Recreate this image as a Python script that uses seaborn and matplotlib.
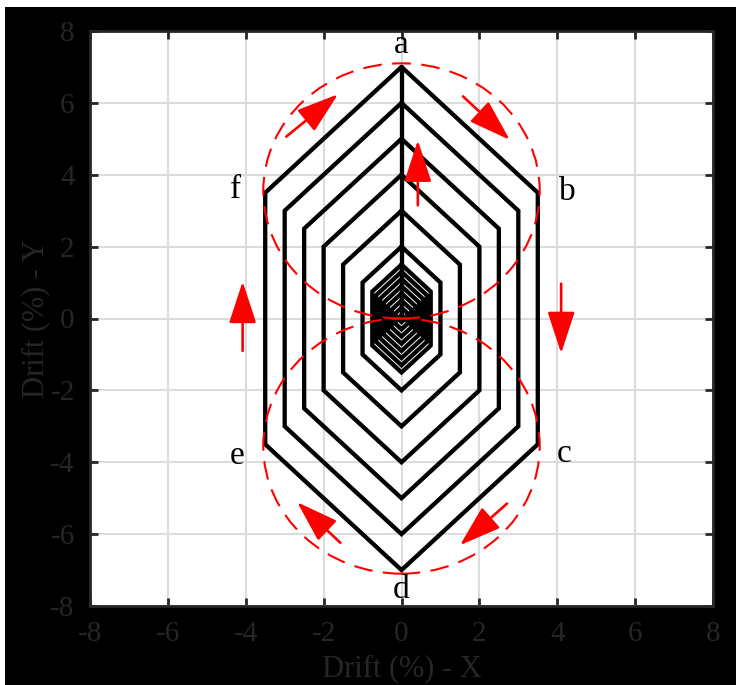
import numpy as np
import pandas as pd
import matplotlib
matplotlib.use("Agg")
import matplotlib.pyplot as plt
import seaborn as sns
from matplotlib.patches import Ellipse, Rectangle

# amplitudes de los ciclos (drift %)
amplitudes = [7, 6, 5, 4, 3, 2, 1.5, 1.3, 1.1, 0.9, 0.7, 0.5, 0.3, 0.1]
# recorrido a-b-c-d-e-f-a en fraccion de la amplitud
path_x = [0, 0.5, 0.5, 0, -0.5, -0.5, 0]
path_y = [1, 0.5, -0.5, -1, -0.5, 0.5, 1]
# tramo vertical de subida entre ciclos
rise_x = [0, 0]
rise_y = [0, 7]

# orbitas de referencia (rojo discontinuo)
orbit_cy = [3.55, -3.55]
orbit_w = 7.1
orbit_h = 7.1

# etiquetas de los puntos
point_labels = ["a", "b", "c", "d", "e", "f"]
label_x = [0, 4.27, 4.17, 0, -4.23, -4.26]
label_y = [7.63, 3.54, -3.76, -7.55, -3.82, 3.57]

# flechas: cola (x0, y0) -> punta (x1, y1)
arrow_x0 = [0.42, -4.08, 4.10, -2.96, 1.58, 2.71, -1.57]
arrow_y0 = [3.15, -0.90, 0.97, 5.06, 6.18, -5.15, -6.24]
arrow_x1 = [0.42, -4.08, 4.10, -1.63, 2.78, 1.50, -2.68]
arrow_y1 = [4.96, 1.03, -0.97, 6.24, 4.97, -6.31, -5.11]

ticks = [-8, -6, -4, -2, 0, 2, 4, 6, 8]

rows = []
for k, amp in enumerate(amplitudes):
    for px, py in zip(path_x, path_y):
        rows.append({"x": px * amp, "y": py * amp, "ciclo": k})
for px, py in zip(rise_x, rise_y):
    rows.append({"x": px, "y": py, "ciclo": len(amplitudes)})
df = pd.DataFrame(rows)

sns.set_style("ticks")
plt.rcParams["font.family"] = ["Liberation Serif", "DejaVu Serif"]
plt.rcParams["axes.unicode_minus"] = False

fig = plt.figure(figsize=(7.36, 6.85), dpi=100, facecolor="white")
fig.patches.append(Rectangle((5 / 736, 0), 1, 1 - 7 / 685, transform=fig.transFigure,
                             facecolor="black", edgecolor="none", zorder=-1))
ax = fig.add_axes([90 / 736, 1 - 606 / 685, 623 / 736, 575 / 685])
ax.set_facecolor("white")

sns.lineplot(data=df, x="x", y="y", units="ciclo", estimator=None, sort=False,
             color="black", lw=3.1, solid_joinstyle="miter", ax=ax, zorder=3)

for cy in orbit_cy:
    ax.add_patch(Ellipse((0, cy), orbit_w, orbit_h, fill=False, edgecolor="red",
                         lw=1.5, linestyle=(0, (9, 5)), zorder=4))

for x0, y0, x1, y1 in zip(arrow_x0, arrow_y0, arrow_x1, arrow_y1):
    ax.annotate("", xy=(x1, y1), xytext=(x0, y0),
                arrowprops=dict(arrowstyle="-|>,head_length=2.6,head_width=0.85",
                                mutation_scale=10, color="red", lw=1.9,
                                shrinkA=0, shrinkB=0), zorder=5)

for t, lx, ly in zip(point_labels, label_x, label_y):
    ax.text(lx, ly, t, ha="center", va="center", fontsize=24, color="black", zorder=6)

ax.set_xlim(-8, 8)
ax.set_ylim(-8, 8)
ax.set_xticks(ticks)
ax.set_yticks(ticks)
ax.grid(True, color="#dcdcdc", lw=1.5)
ax.set_axisbelow(True)
ax.tick_params(direction="in", top=True, right=True, length=6, width=2,
               color="#262626", labelsize=21, labelcolor="#262626", pad=11)
for s in ax.spines.values():
    s.set_color("#262626")
    s.set_linewidth(2)
ax.set_xlabel("Drift (%) - X", fontsize=22, color="#262626", labelpad=5)
ax.set_ylabel("Drift (%) - Y", fontsize=22, color="#262626", labelpad=0)

fig.savefig("out.png", dpi=100)
